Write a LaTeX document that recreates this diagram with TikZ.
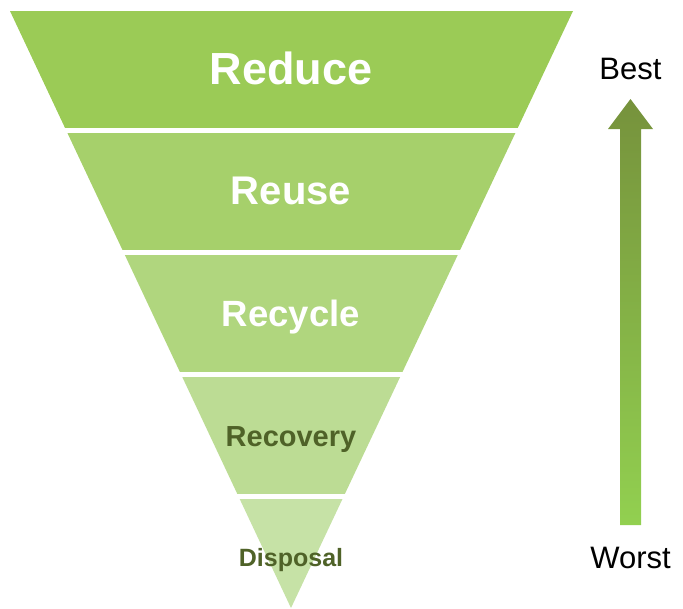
\documentclass[tikz,border=0pt]{standalone}
\usepackage{fontspec}
\setmainfont{Liberation Sans}
\definecolor{reduceGreen}{HTML}{9BCB56}
\definecolor{reuseGreen}{HTML}{A6D06B}
\definecolor{recycleGreen}{HTML}{B0D67E}
\definecolor{recoveryGreen}{HTML}{BCDC94}
\definecolor{disposalGreen}{HTML}{C6E2A6}
\definecolor{darkLabel}{HTML}{4F6228}
\definecolor{arrowTop}{HTML}{76923C}
\definecolor{arrowBottom}{HTML}{92D050}
\tikzset{
  lbl/.style={anchor=base, inner sep=0pt},
}
\begin{document}
\begin{tikzpicture}[x=0.75pt,y=-0.75pt]
    \useasboundingbox (0,0) rectangle (683,608);

    % Hierarchy bands
    \begin{scope}
        \clip (10,11) -- (573,11) -- (291,608) -- cycle;
        \foreach \ytop/\col in {11/reduceGreen, 133/reuseGreen, 255/recycleGreen, 377/recoveryGreen, 499/disposalGreen}
            \fill[\col] (0,\ytop) rectangle (683,\ytop+117);
    \end{scope}

    % Band labels
    \node[lbl, text=white, font=\bfseries\fontsize{33.75}{40}\selectfont] (reduce) at (291,84) {Reduce};
    \node[lbl, text=white, font=\bfseries\fontsize{30}{36}\selectfont] (reuse) at (291,204) {Reuse};
    \node[lbl, text=white, font=\bfseries\fontsize{27.4}{33}\selectfont] (recycle) at (291,326) {Recycle};
    \node[lbl, text=darkLabel, font=\bfseries\fontsize{21.75}{26}\selectfont] (recovery) at (291,446) {Recovery};
    \node[lbl, text=darkLabel, font=\bfseries\fontsize{18.75}{22}\selectfont] (disposal) at (291,566) {Disposal};

    % Best-worst arrow
    \shade[top color=arrowTop, bottom color=arrowBottom]
        (620,525) -- (620,129) -- (608,129) -- (630.5,99) -- (653,129) -- (641,129) -- (641,525) -- cycle;
    \node[lbl, font=\fontsize{23.25}{28}\selectfont] (best) at (630.5,79) {Best};
    \node[lbl, font=\fontsize{23.25}{28}\selectfont] (worst) at (630.5,568) {Worst};
\end{tikzpicture}
\end{document}
